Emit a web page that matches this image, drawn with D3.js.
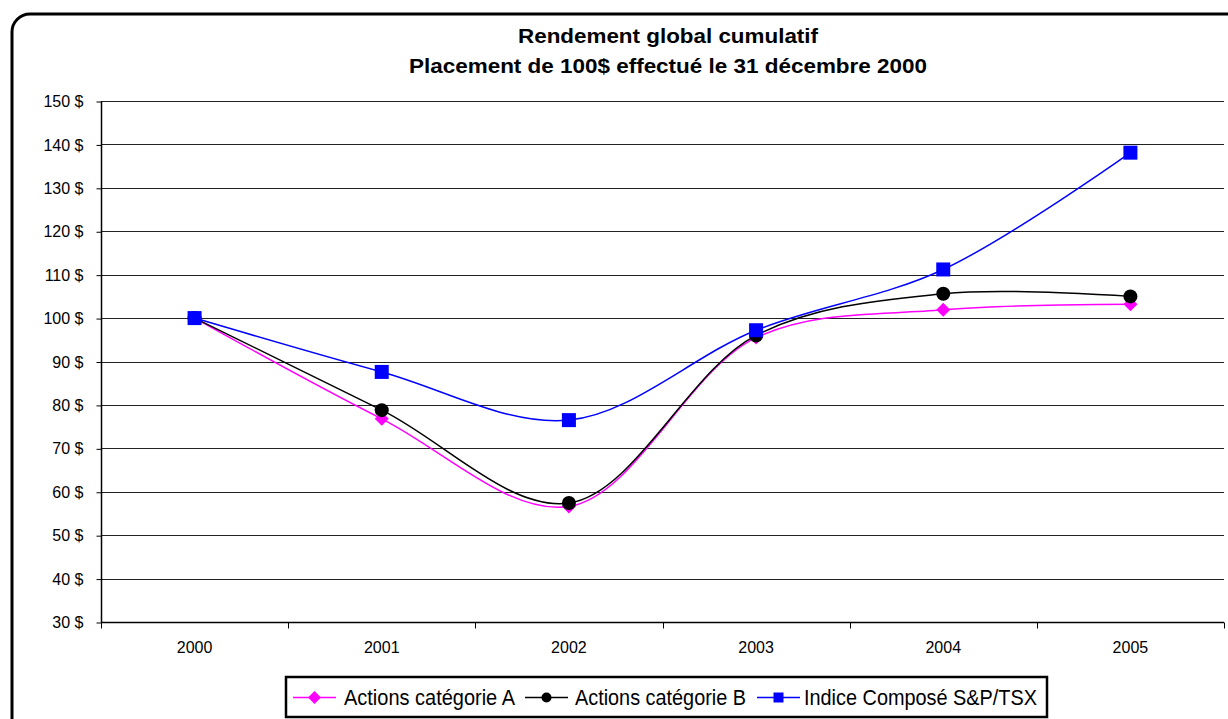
<!DOCTYPE html>
<html><head><meta charset="utf-8">
<script src="https://cdn.jsdelivr.net/npm/d3@7"></script>
<style>body{margin:0;background:#fff}svg{display:block}</style>
</head><body>
<svg id="c" width="1228" height="719"></svg>
<script>
const categories = ["2000","2001","2002","2003","2004","2005"];
const seriesA = [100, 76.8, 56.6, 95.5, 101.9, 103.2];
const seriesB = [100, 78.8, 57.4, 96.0, 105.6, 105.0];
const seriesTSX = [100, 87.6, 76.5, 97.2, 111.2, 138.1];
const yTicks = [30,40,50,60,70,80,90,100,110,120,130,140,150];
const seriesNames = ["Actions catégorie A","Actions catégorie B","Indice Composé S&P/TSX"];
const titleLines = ["Rendement global cumulatif","Placement de 100$ effectué le 31 décembre 2000"];

const svg = d3.select("#c");
const font = "Liberation Sans, Arial, sans-serif";
// outer frame
svg.append("rect").attr("x",12).attr("y",14).attr("width",1240).attr("height",740)
  .attr("rx",18).attr("fill","#fff").attr("stroke","#000").attr("stroke-width",3);

const L=101, R=1224, T=101, B=622;
const x = d3.scaleBand().domain(categories).range([L,R]);
const y = d3.scaleLinear().domain([30,150]).range([B,T]);

// title
const titleW=[300,518], titleY=[43,73];
titleLines.forEach((t,i)=>svg.append("text").attr("x",668-titleW[i]/2).attr("y",titleY[i])
  .attr("font-family",font).attr("font-weight","bold")
  .attr("font-size",20).attr("textLength",titleW[i]).attr("lengthAdjust","spacingAndGlyphs").text(t));

// grid
svg.append("g").selectAll("line").data(yTicks.slice(1)).join("line")
  .attr("x1",L).attr("x2",R).attr("y1",d=>Math.round(y(d))+0.5).attr("y2",d=>Math.round(y(d))+0.5)
  .attr("stroke","#222").attr("stroke-width",1.2);

// y axis
const yAxis = d3.axisLeft(y).tickValues(yTicks).tickFormat(d=>d+" $").tickSize(5).tickPadding(13);
const gy = svg.append("g").attr("transform",`translate(${L+0.5},0.5)`).call(yAxis);
gy.selectAll("text").attr("font-family",font).attr("font-size",16).attr("fill","#000");
gy.selectAll("line,path").attr("stroke","#000");
gy.select("path").attr("d",`M0,${T}V${B}`).attr("stroke-width",1.5);

// x axis
const xAxis = d3.axisBottom(x).tickSize(0).tickPadding(19);
const gx = svg.append("g").attr("transform",`translate(0,${B+0.5})`).call(xAxis);
gx.select("path").attr("d",`M${L},0H${R}`).attr("stroke","#000").attr("stroke-width",1.5);
gx.selectAll("text").attr("font-family",font).attr("font-size",16).attr("fill","#000");
const bounds = categories.map(c=>x(c)).concat([R]);
gx.selectAll("line.sep").data(bounds).join("line").attr("class","sep")
  .attr("x1",d=>Math.round(d)+0.5).attr("x2",d=>Math.round(d)+0.5).attr("y1",0).attr("y2",6).attr("stroke","#000");

const cx = c=>x(c)+x.bandwidth()/2;
const line = d3.line().x((d,i)=>cx(categories[i])).y(d=>y(d)).curve(d3.curveCatmullRom.alpha(0.5));

const series = [
  {vals:seriesA,color:"#ff00ff",marker:"diamond"},
  {vals:seriesB,color:"#000000",marker:"circle"},
  {vals:seriesTSX,color:"#0000ff",marker:"square"}
];
function marker(g,type,color,px,py,s){
  if(type==="diamond") g.append("path").attr("d",`M${px},${py-s}L${px+s},${py}L${px},${py+s}L${px-s},${py}Z`).attr("fill",color);
  else if(type==="circle") g.append("circle").attr("cx",px).attr("cy",py).attr("r",s).attr("fill",color);
  else g.append("rect").attr("x",px-s).attr("y",py-s).attr("width",2*s).attr("height",2*s).attr("fill",color);
}
const msize={diamond:7,circle:7,square:7};
series.forEach(s=>{
  svg.append("path").datum(s.vals).attr("d",line).attr("fill","none").attr("stroke",s.color).attr("stroke-width",1.5);
});
series.forEach(s=>{
  const g=svg.append("g");
  s.vals.forEach((v,i)=>marker(g,s.marker,s.color,cx(categories[i]),y(v),msize[s.marker]));
});

// legend
const lg = svg.append("g");
lg.append("rect").attr("x",286).attr("y",677).attr("width",761).attr("height",40).attr("fill","#fff").attr("stroke","#000").attr("stroke-width",2.5);
const lx=[293,525,757], tx=[344,575,804], tw=[171,171,233];
const lsize={diamond:6.5,circle:5,square:5};
series.forEach((s,i)=>{
  const ly=697.5;
  lg.append("line").attr("x1",lx[i]).attr("x2",lx[i]+43).attr("y1",ly).attr("y2",ly).attr("stroke",s.color).attr("stroke-width",1.5);
  marker(lg,s.marker,s.color,lx[i]+21.5,ly,lsize[s.marker]);
  lg.append("text").attr("x",tx[i]).attr("y",ly+7.5).attr("font-family",font).attr("font-size",22)
    .attr("textLength",tw[i]).attr("lengthAdjust","spacingAndGlyphs").text(seriesNames[i]);
});
</script>
</body></html>
